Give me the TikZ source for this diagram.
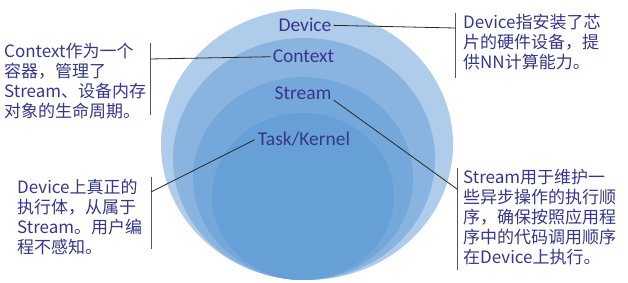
\documentclass[tikz,border=0pt]{standalone}
\usepackage{fontspec}
\setmainfont{Carlito}
\newfontfamily\cjk{Noto Sans CJK SC}
\usepackage{tikz}
\usetikzlibrary{positioning, shapes.geometric, calc}
\definecolor{ink}{RGB}{54,54,140}
\definecolor{leader}{RGB}{40,40,40}
\definecolor{brace}{RGB}{85,85,85}
\definecolor{devblue}{RGB}{175,205,234}
\definecolor{ctxblue}{RGB}{138,180,224}
\definecolor{strblue}{RGB}{116,168,219}
\definecolor{taskblue}{RGB}{102,160,215}

\begin{document}
\begin{tikzpicture}[
  x=1pt, y=-1pt,
  ring/.style={ellipse, inner sep=0pt, draw=none},
  lbl/.style={font=\fontsize{19.5}{22}\selectfont, text=ink, inner sep=2pt},
  note/.style={font=\cjk\fontsize{17}{20}\selectfont, text=ink, align=left,
               inner sep=0pt, anchor=north west},
  lead/.style={draw=leader, line width=0.8pt},
  bar/.style={draw=brace, line width=1pt},
]
  \useasboundingbox (0,0) rectangle (628,283);

  % nested rings
  \node[ring, fill=devblue, minimum width=292pt, minimum height=271pt] (devring) at (307,144.5) {};
  \node[ring, fill=ctxblue, minimum width=262pt, minimum height=242pt] (ctxring) at (304,159) {};
  \node[ring, fill=strblue, minimum width=220pt, minimum height=203pt] (strring) at (303,178.5) {};
  \node[ring, fill=taskblue, minimum width=182pt, minimum height=167pt] (taskring) at (303,196.5) {};

  % ring labels
  \node[lbl, anchor=base] (device) at (305,32) {Device};
  \node[lbl, anchor=base] (context) at (303.5,63) {Context};
  \node[lbl, anchor=base] (stream) at (303,100) {Stream};
  \node[lbl, anchor=base, inner sep=3pt] (task) at (304,146) {Task/Kernel};

  % callout texts
  \node[note] (devnote) at (463,14) {Device指安装了芯\\片的硬件设备，提\\供NN计算能力。};
  \node[note] (ctxnote) at (4,43) {Context作为一个\\容器，管理了\\Stream、设备内存\\对象的生命周期。};
  \node[note] (tasknote) at (17,179) {Device上真正的\\执行体，从属于\\Stream。用户编\\程不感知。};
  \node[note] (strnote) at (463,169) {Stream用于维护一\\些异步操作的执行顺\\序，确保按照应用程\\序中的代码调用顺序\\在Device上执行。};

  % brackets
  \coordinate (devtop) at (455,13);
  \coordinate (devbot) at (455,78);
  \coordinate (devhit) at (455,28);
  \coordinate (ctxtop) at (150,43);
  \coordinate (ctxbot) at (150,115);
  \coordinate (ctxhit) at (150,59);
  \coordinate (tasktop) at (151,177);
  \coordinate (taskbot) at (151,249);
  \coordinate (taskhit) at (151,192);
  \coordinate (strtop) at (457,168);
  \coordinate (strbot) at (457,270);
  \coordinate (strhit) at (457,189);

  \draw[bar] (devtop) -- (devbot);
  \draw[bar] (ctxtop) -- (ctxbot);
  \draw[bar] (tasktop) -- (taskbot);
  \draw[bar] (strtop) -- (strbot);

  % leaders
  \draw[lead] (device.east) -- (devhit);
  \draw[lead] (ctxhit) -- (context.west);
  \draw[lead] (taskhit) -- (task.west);
  \draw[lead] (stream.base east) -- (strhit);
\end{tikzpicture}
\end{document}
